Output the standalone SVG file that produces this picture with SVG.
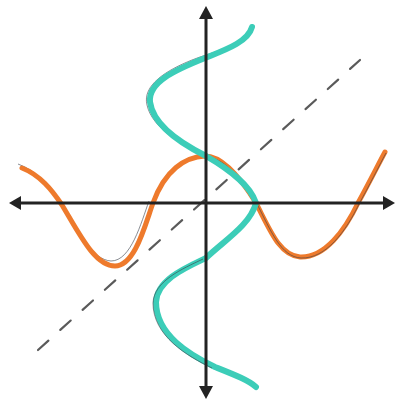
<svg xmlns="http://www.w3.org/2000/svg" width="398" height="400" viewBox="0 0 398 400">
<style>
.axis{stroke:#232323;stroke-width:3;fill:none;stroke-linecap:round}
.head{fill:#232323}
.orange{stroke:#ee7a2c;stroke-width:5;fill:none;stroke-linecap:round;stroke-linejoin:round}
.teal{stroke:#3ccdb8;stroke-width:6;fill:none;stroke-linecap:round;stroke-linejoin:round}
.pencil{stroke:#3a3f4a;stroke-width:1;fill:none;opacity:0.6}
.dash{stroke:#5a5a5a;stroke-width:2.2;fill:none;stroke-dasharray:14 16;stroke-linecap:round}
</style>
<rect width="398" height="400" fill="#ffffff"/>
<g id="diagonal">
<line class="dash" x1="38" y1="350" x2="360" y2="60"/>
</g>
<g id="orange-curve">
<path class="pencil" transform="translate(-2,-2)" d="M20,166 C40,173 52,190 62,205 C80,235 95,262 113,263 C133,263 143,225 151,203"/>
<path class="orange" d="M22,168 C40,175 52,190 62,205 C80,235 95,266 115,266 C135,266 145,225 153,203 C165,170 185,157 205,156 C225,156 245,185 256,203 C270,230 280,256 300,257 C325,258 345,230 358,203 C368,185 378,165 385,152"/>
<path class="pencil" transform="translate(1,1)" d="M205,156 C225,156 245,185 256,203 C270,230 280,256 300,257 C325,258 345,230 358,203 C368,185 378,165 385,152"/>
</g>
<g id="teal-curve">
<path class="pencil" transform="translate(-3,0)" d="M245,40 C230,50 215,52 195,60 C170,70 145,85 150,105 C155,128 185,145 206,156"/>
<path class="teal" d="M252,27 C248,42 225,50 205,58 C175,70 148,82 150,102 C153,125 180,143 206,156 C230,170 250,185 256,203 C250,225 225,240 206,258 C185,268 157,280 156,302 C156,335 190,355 215,367 C235,375 248,380 256,387"/>
<path class="pencil" transform="translate(-3,1)" d="M206,258 C185,268 157,280 156,302 C156,335 190,355 215,367"/>
</g>
<g id="axes">
<line class="axis" x1="16" y1="203" x2="388" y2="203"/>
<polygon class="head" points="9,203 21,196 21,210"/>
<polygon class="head" points="395,203 383,196 383,210"/>
<line class="axis" x1="206" y1="14" x2="206" y2="392"/>
<polygon class="head" points="206,6 199,19 213,19"/>
<polygon class="head" points="206,399 199,386 213,386"/>
</g>
</svg>
